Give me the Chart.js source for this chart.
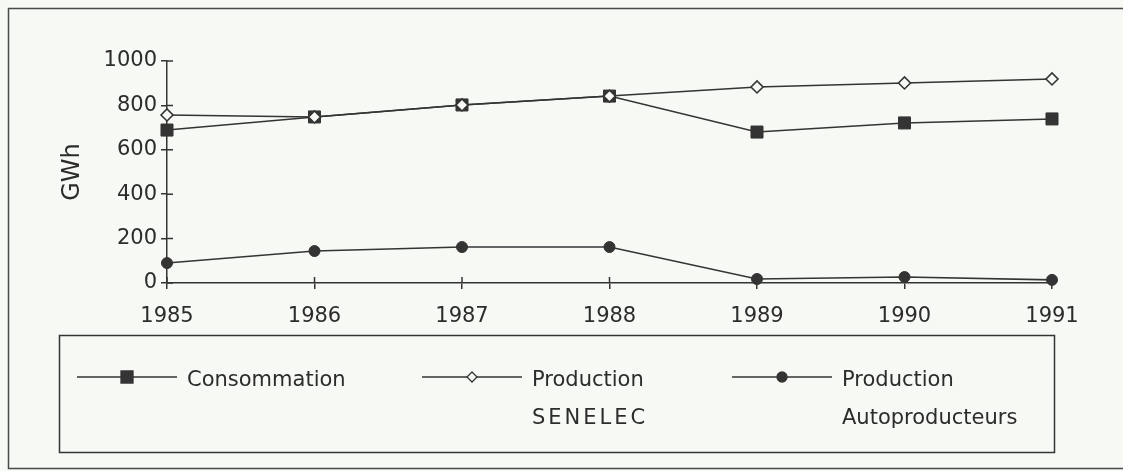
<!DOCTYPE html>
<html lang="fr">
<head>
  <meta charset="UTF-8" />
  <title>Consommation et production d'électricité</title>
  <script src="https://cdn.jsdelivr.net/npm/chart.js"></script>
  <style>
    html, body {
      margin: 0;
      padding: 0;
      background: #f6f9f4;
    }

    .chart-box {
      position: relative;
      width: 1123px;
      height: 471px;
    }
  </style>
</head>
<body>
  <div class="chart-box">
    <canvas id="energy-chart"></canvas>
  </div>

  <script>
    // values (GWh)
    const years = ['1985', '1986', '1987', '1988', '1989', '1990', '1991'];
    const consommation = [689, 748, 802, 842, 680, 721, 739];
    const productionSenelec = [757, 748, 802, 842, 883, 901, 919];
    const productionAuto = [90, 144, 162, 162, 18, 27, 14];

    const yMin = 0;
    const yMax = 1000;
    const yStep = 200;
    const yTitle = 'GWh';

    const seriesNames = ['Consommation', 'Production SENELEC', 'Production Autoproducteurs'];
    const legendLines = [['Consommation'], ['Production', 'SENELEC'], ['Production', 'Autoproducteurs']];

    const ink = '#343434';
    const paper = '#f6f9f4';
    const fontFamily = "'DejaVu Sans', sans-serif";

    // paper colour + scanned frame
    const paperPlugin = {
      id: 'paper',
      beforeDraw(chart) {
        const ctx = chart.ctx;
        ctx.save();
        ctx.fillStyle = paper;
        ctx.fillRect(0, 0, chart.width, chart.height);
        ctx.strokeStyle = '#4a4a4a';
        ctx.lineWidth = 1.5;
        ctx.strokeRect(8.5, 8.5, chart.width + 20, 460);
        ctx.restore();
      }
    };

    // ticks crossing the axes (inner half)
    const innerTicks = {
      id: 'innerTicks',
      afterDatasetsDraw(chart) {
        const ctx = chart.ctx;
        const x = chart.scales.x;
        const y = chart.scales.y;
        ctx.save();
        ctx.strokeStyle = ink;
        ctx.lineWidth = 1.5;
        ctx.beginPath();
        y.ticks.forEach(t => {
          const py = y.getPixelForValue(t.value);
          ctx.moveTo(x.left, py);
          ctx.lineTo(x.left + 6, py);
        });
        years.forEach((_, i) => {
          const px = x.getPixelForValue(i);
          ctx.moveTo(px, y.bottom);
          ctx.lineTo(px, y.bottom - 6);
        });
        ctx.stroke();
        ctx.restore();
      }
    };

    // boxed legend under the axis, labels on two lines
    const boxLegend = {
      id: 'boxLegend',
      afterDraw(chart) {
        const ctx = chart.ctx;
        const box = { x: 59.5, y: 335.5, w: 995, h: 117 };
        const entryX = [77, 422, 732];
        const lineY = 377;
        ctx.save();
        ctx.strokeStyle = ink;
        ctx.lineWidth = 1.5;
        ctx.strokeRect(box.x, box.y, box.w, box.h);

        chart.data.datasets.forEach((ds, i) => {
          const x0 = entryX[i];
          ctx.strokeStyle = ink;
          ctx.lineWidth = 1.5;
          ctx.beginPath();
          ctx.moveTo(x0, lineY);
          ctx.lineTo(x0 + 100, lineY);
          ctx.stroke();

          const mx = x0 + 50;
          ctx.fillStyle = ds.legendFill;
          ctx.lineWidth = 1.3;
          ctx.beginPath();
          if (ds.pointStyle === 'rect') {
            ctx.rect(mx - 6, lineY - 6, 12, 12);
          } else if (ds.pointStyle === 'rectRot') {
            ctx.moveTo(mx, lineY - 5);
            ctx.lineTo(mx + 5, lineY);
            ctx.lineTo(mx, lineY + 5);
            ctx.lineTo(mx - 5, lineY);
            ctx.closePath();
          } else {
            ctx.arc(mx, lineY, 5, 0, Math.PI * 2);
          }
          ctx.fill();
          ctx.stroke();

          ctx.fillStyle = '#2c2c2c';
          ctx.font = '21px ' + fontFamily;
          ctx.textBaseline = 'middle';
          legendLines[i].forEach((txt, k) => {
            ctx.letterSpacing = txt === 'SENELEC' ? '3px' : '0px';
            ctx.fillText(txt, x0 + 110, 381 + k * 38);
          });
          ctx.letterSpacing = '0px';
        });
        ctx.restore();
      }
    };

    Chart.defaults.font.family = fontFamily;
    Chart.defaults.color = '#2c2c2c';

    new Chart(document.getElementById('energy-chart'), {
      type: 'line',
      data: {
        labels: years,
        datasets: [
          {
            label: seriesNames[0],
            data: consommation,
            borderColor: ink,
            borderWidth: 1.6,
            pointStyle: 'rect',
            pointRadius: 8.5,
            pointBackgroundColor: ink,
            pointBorderColor: ink,
            pointBorderWidth: 1,
            legendFill: ink,
            tension: 0,
            clip: false,
            order: 1
          },
          {
            label: seriesNames[1],
            data: productionSenelec,
            borderColor: ink,
            borderWidth: 1.6,
            pointStyle: 'rectRot',
            pointRadius: 6,
            pointBackgroundColor: paper,
            pointBorderColor: ink,
            pointBorderWidth: 1.6,
            legendFill: paper,
            tension: 0,
            clip: false,
            order: 0
          },
          {
            label: seriesNames[2],
            data: productionAuto,
            borderColor: ink,
            borderWidth: 1.6,
            pointStyle: 'circle',
            pointRadius: 5.5,
            pointBackgroundColor: ink,
            pointBorderColor: ink,
            pointBorderWidth: 1,
            legendFill: ink,
            tension: 0,
            clip: false,
            order: 2
          }
        ]
      },
      options: {
        responsive: true,
        maintainAspectRatio: false,
        animation: false,
        layout: {
          padding: { left: 0, top: 61, right: 71, bottom: 138 }
        },
        plugins: {
          legend: { display: false },
          tooltip: { enabled: false }
        },
        scales: {
          x: {
            offset: false,
            grid: { drawOnChartArea: false, color: ink, lineWidth: 1.5, tickLength: 6 },
            border: { color: ink, width: 1.5 },
            ticks: { font: { size: 21 }, padding: 15, maxRotation: 0 },
            afterFit(scale) { scale.height = 50; }
          },
          y: {
            min: yMin,
            max: yMax,
            grid: { drawOnChartArea: false, color: ink, lineWidth: 1.5, tickLength: 6 },
            border: { color: ink, width: 1.5 },
            ticks: {
              stepSize: yStep,
              font: { size: 21 },
              padding: 4,
              callback: value => String(value)
            },
            title: {
              display: true,
              text: yTitle,
              font: { size: 24 },
              padding: { top: 58, bottom: 0 }
            },
            afterFit(scale) { scale.width = 167; }
          }
        }
      },
      plugins: [paperPlugin, innerTicks, boxLegend]
    });
  </script>
</body>
</html>
